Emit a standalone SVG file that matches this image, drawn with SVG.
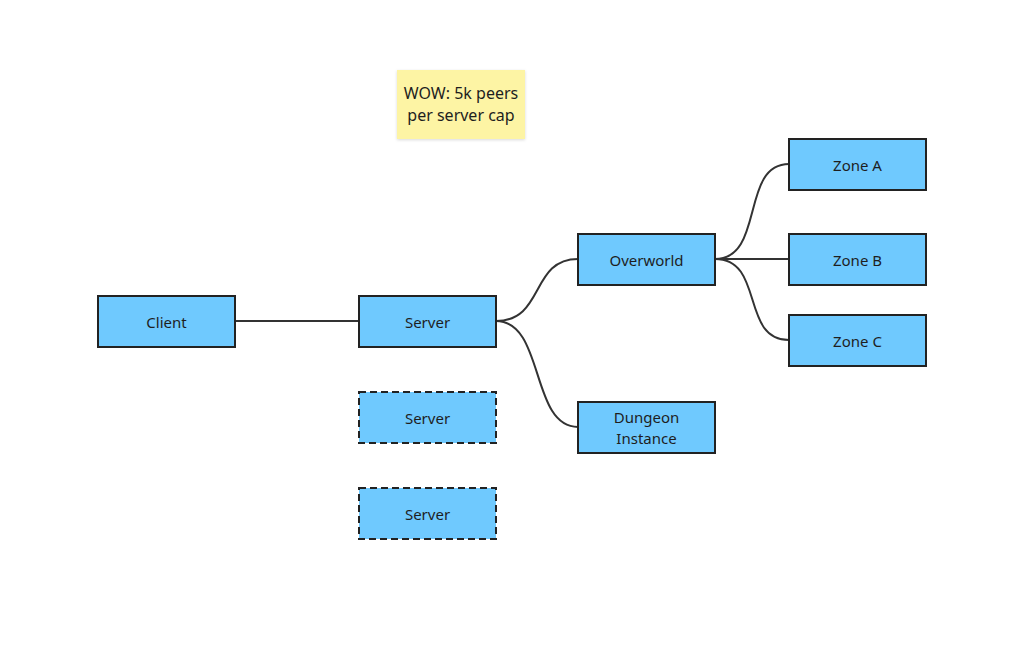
<svg xmlns="http://www.w3.org/2000/svg" width="1024" height="661" viewBox="0 0 1024 661">
<defs>
<filter id="sh" x="-10%" y="-10%" width="130%" height="130%"><feDropShadow dx="0" dy="1" stdDeviation="1.5" flood-color="#000" flood-opacity="0.15"/></filter>
</defs>
<style>
.n{fill:#6fc9fe;stroke:#222;stroke-width:2}
.d{fill:#6fc9fe;stroke:#222;stroke-width:2;stroke-dasharray:7 4}
.t{font-family:"Noto Sans","Open Sans",sans-serif;font-size:15px;fill:#1e1e1e;text-anchor:middle;dominant-baseline:central}
.c{fill:none;stroke:#333;stroke-width:2}
</style>
<rect width="1024" height="661" fill="#fff"/>
<g id="note">
<rect x="397" y="70" width="128" height="69" fill="#fdf4a4" filter="url(#sh)"/>
<text class="t" x="461" y="93" style="font-size:16px">WOW: 5k peers</text>
<text class="t" x="461" y="115" style="font-size:16px">per server cap</text>
</g>
<g id="connectors">
<path class="c" d="M235,321 H359"/>
<path class="c" d="M496,321 C545,321 530,259 578,259"/>
<path class="c" d="M496,321 C545,321 530,427 578,427"/>
<path class="c" d="M715,259 C765,259 740,164 789,164"/>
<path class="c" d="M715,259 H789"/>
<path class="c" d="M715,259 C765,259 740,340 789,340"/>
</g>
<g id="client"><rect class="n" x="98" y="296" width="137" height="51"/><text class="t" x="166.5" y="321.5">Client</text></g>
<g id="server"><rect class="n" x="359" y="296" width="137" height="51"/><text class="t" x="427.5" y="321.5">Server</text></g>
<g id="server2"><rect class="d" x="359" y="392" width="137" height="51"/><text class="t" x="427.5" y="417.5">Server</text></g>
<g id="server3"><rect class="d" x="359" y="488" width="137" height="51"/><text class="t" x="427.5" y="513.5">Server</text></g>
<g id="overworld"><rect class="n" x="578" y="234" width="137" height="51"/><text class="t" x="646.5" y="259.5">Overworld</text></g>
<g id="dungeon"><rect class="n" x="578" y="402" width="137" height="51"/><text class="t" x="646.5" y="417">Dungeon</text><text class="t" x="646.5" y="438">Instance</text></g>
<g id="zoneA"><rect class="n" x="789" y="139" width="137" height="51"/><text class="t" x="857.5" y="164.5">Zone A</text></g>
<g id="zoneB"><rect class="n" x="789" y="234" width="137" height="51"/><text class="t" x="857.5" y="259.5">Zone B</text></g>
<g id="zoneC"><rect class="n" x="789" y="315" width="137" height="51"/><text class="t" x="857.5" y="340.5">Zone C</text></g>
</svg>
